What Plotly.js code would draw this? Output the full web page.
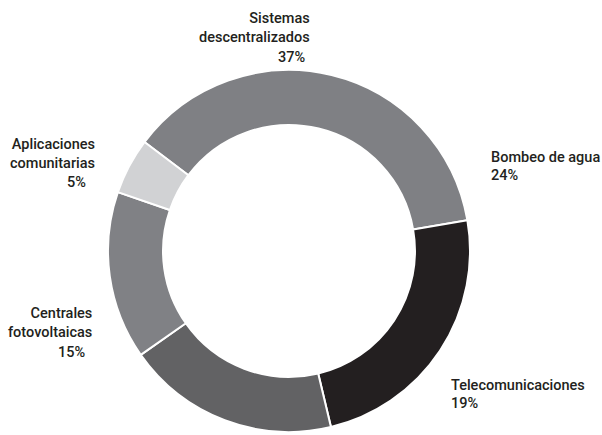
<!DOCTYPE html>
<html>
<head>
<meta charset="utf-8">
<script src="https://cdn.plot.ly/plotly-3.0.1.min.js"></script>
<style>html,body{margin:0;padding:0;background:#fff;}#chart{width:602px;height:435px;}</style>
</head>
<body>
<div id="chart"></div>
<script>
const categories = ["Sistemas descentralizados", "Bombeo de agua", "Telecomunicaciones", "Centrales fotovoltaicas", "Aplicaciones comunitarias"];
const values = [37, 24, 19, 15, 5];
const labelLines = [
  ["Sistemas", "descentralizados"],
  ["Bombeo de agua"],
  ["Telecomunicaciones"],
  ["Centrales", "fotovoltaicas"],
  ["Aplicaciones", "comunitarias"]
];
const colors = ["#7f8084", "#231f20", "#626264", "#808185", "#d1d2d4"];

// label placement (paper px): name block centre, percent line position, alignment
const namePos = [
  {x: 312, y: 28, align: "right"},
  {x: 489, y: 157, align: "left"},
  {x: 449, y: 385, align: "left"},
  {x: 94,  y: 323, align: "right"},
  {x: 97,  y: 154, align: "right"}
];
const pctPos = [
  {x: 307, y: 57},
  {x: 489, y: 175},
  {x: 449, y: 403},
  {x: 87,  y: 352},
  {x: 88,  y: 182}
];

const W = 602, H = 435;
const font = {family: "Roboto, 'Liberation Sans', sans-serif", size: 14.5, color: "#231f20", weight: 500};

const annotations = [];
categories.forEach((c, i) => {
  const p = namePos[i], q = pctPos[i];
  annotations.push({
    xref: "paper", yref: "paper",
    x: p.x / W, y: 1 - p.y / H,
    xanchor: p.align, yanchor: "middle", align: p.align,
    showarrow: false,
    text: labelLines[i].join("<br>"),
    font: font
  });
  annotations.push({
    xref: "paper", yref: "paper",
    x: q.x / W, y: 1 - q.y / H,
    xanchor: p.align, yanchor: "middle", align: p.align,
    showarrow: false,
    text: values[i] + "%",
    font: font
  });
});

const trace = {
  type: "pie",
  labels: categories,
  values: values,
  sort: false,
  direction: "clockwise",
  rotation: 307,
  hole: 0.696,
  textinfo: "none",
  hoverinfo: "label+percent",
  marker: {colors: colors, line: {color: "#ffffff", width: 2}},
  domain: {x: [108 / W, 470 / W], y: [1 - 432 / H, 1 - 70 / H]}
};

const layout = {
  width: W, height: H,
  margin: {l: 0, r: 0, t: 0, b: 0},
  showlegend: false,
  paper_bgcolor: "#ffffff",
  annotations: annotations
};

Plotly.newPlot("chart", [trace], layout, {displayModeBar: false, staticPlot: true});
</script>
</body>
</html>
